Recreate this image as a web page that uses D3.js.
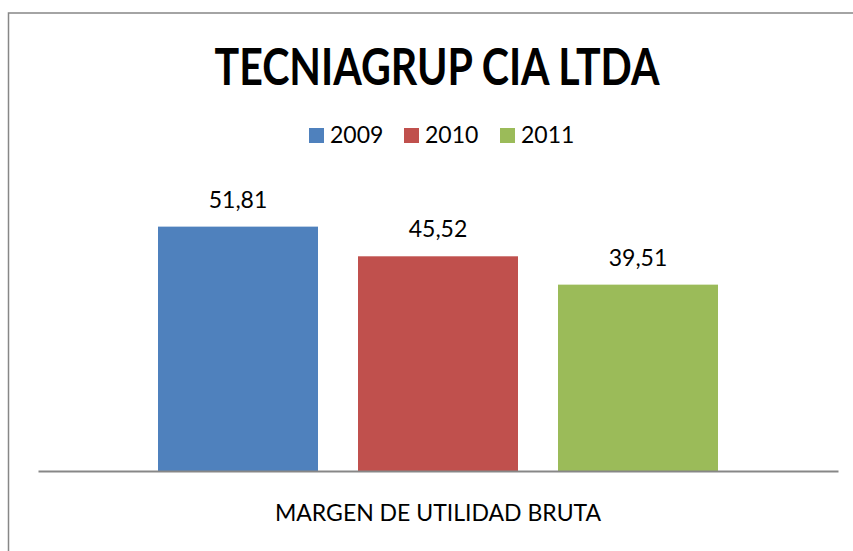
<!DOCTYPE html>
<html>
<head>
<meta charset="utf-8">
<script src="https://cdn.jsdelivr.net/npm/d3@7"></script>
<style>
  body { margin: 0; background: #fff; }
  svg text { font-family: Lato, "Open Sans", sans-serif; fill: #000; }
</style>
</head>
<body>
<div id="chart"></div>
<script>
var title = "TECNIAGRUP CIA LTDA";
var categories = ["MARGEN DE UTILIDAD BRUTA"];
var series = ["2009", "2010", "2011"];
var values = [51.81, 45.52, 39.51];
var colors = ["#4F81BD", "#C0504D", "#9BBB59"];
var yMax = 60;

var width = 853, height = 551;
var plot = {left: 38, right: 838, top: 188, bottom: 471};

var svg = d3.select("#chart")
    .append("svg")
    .attr("width", width)
    .attr("height", height);

// chart border (runs past the right and bottom edges)
svg.append("rect")
    .attr("x", 8.5)
    .attr("y", 13)
    .attr("width", 900)
    .attr("height", 600)
    .attr("fill", "none")
    .attr("stroke", "#878787")
    .attr("stroke-width", 1.5);

// title is narrower in the original font, so squeeze it to fit
svg.append("text")
    .attr("x", 437)
    .attr("y", 85)
    .attr("text-anchor", "middle")
    .attr("textLength", 445)
    .attr("lengthAdjust", "spacingAndGlyphs")
    .style("font-weight", "bold")
    .style("font-size", "52px")
    .text(title);

// legend
var legendPos = [309, 404, 500];
var legend = svg.append("g").selectAll("g")
    .data(series)
    .enter().append("g")
    .attr("transform", function(d, i) { return "translate(" + legendPos[i] + ",128)"; });

legend.append("rect")
    .attr("width", 15)
    .attr("height", 15)
    .attr("fill", function(d, i) { return colors[i]; });

legend.append("text")
    .attr("x", 21)
    .attr("y", 15)
    .style("font-size", "23px")
    .text(function(d) { return d; });

var xScale = d3.scaleBand()
    .domain(categories)
    .range([plot.left, plot.right]);

var yScale = d3.scaleLinear()
    .domain([0, yMax])
    .range([plot.bottom, plot.top]);

var cat = categories[0];
var bw = xScale.bandwidth();
var xInner = d3.scaleBand()
    .domain(series)
    .range([xScale(cat) + bw * 0.15, xScale(cat) + bw * 0.85])
    .paddingInner(0.2);

svg.append("g").selectAll("rect")
    .data(values)
    .enter().append("rect")
    .attr("x", function(d, i) { return xInner(series[i]); })
    .attr("y", function(d) { return yScale(d); })
    .attr("width", xInner.bandwidth())
    .attr("height", function(d) { return yScale(0) - yScale(d); })
    .attr("fill", function(d, i) { return colors[i]; });

var fmt = function(v) { return d3.format(".2f")(v).replace(".", ","); };

svg.append("g").selectAll("text")
    .data(values)
    .enter().append("text")
    .attr("x", function(d, i) { return xInner(series[i]) + xInner.bandwidth() / 2; })
    .attr("y", function(d) { return yScale(d) - 19; })
    .attr("text-anchor", "middle")
    .style("font-size", "23px")
    .text(fmt);

// x axis
var xAxis = d3.axisBottom(xScale).tickSize(0).tickPadding(34);
var gX = svg.append("g")
    .attr("transform", "translate(0," + plot.bottom + ")")
    .call(xAxis);
gX.select(".domain").attr("stroke", "#878787").attr("stroke-width", 2);
gX.selectAll("text")
    .style("font-size", "23px")
    .style("font-family", "Lato, sans-serif")
    .attr("fill", "#000");
</script>
</body>
</html>
